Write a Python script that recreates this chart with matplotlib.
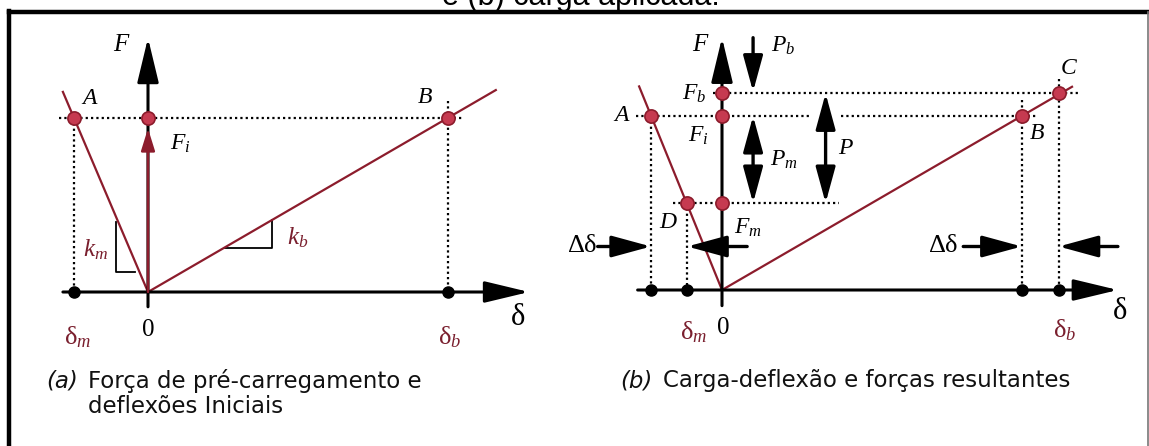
import matplotlib
matplotlib.use("Agg")
import matplotlib.pyplot as plt

plt.rcParams['mathtext.fontset'] = 'custom'
plt.rcParams['mathtext.rm'] = 'Liberation Serif'
plt.rcParams['mathtext.it'] = 'Liberation Serif:italic'
plt.rcParams['mathtext.bf'] = 'Liberation Serif:bold'

# (a) preload: member and bolt deflections at the initial force
F_i = 1.0
delta_m_a = -1.0
delta_b_a = 4.05

# (b) after the external load P is applied
names_b = ['A', 'D', 'B', 'C']
delta_b_pts = [-0.96, -0.47, 4.05, 4.55]
F_b_pts = [1.0, 0.50, 1.0, 1.13]
F_b = 1.13
F_m = 0.50

RED = '#8c1c2c'
MRED = '#c63a50'
LRED = '#7a1f2e'
W, H = 1149, 446
UX, UY = 74.0, 174.0      # pixels per unit of delta and F

fig = plt.figure(figsize=(W / 100, H / 100), dpi=100)


def panel(px_l, px_r, px_t, px_b, ox, oy):
    ax = fig.add_axes([px_l / W, 1 - px_b / H, (px_r - px_l) / W, (px_b - px_t) / H])
    ax.set_xlim((px_l - ox) / UX, (px_r - ox) / UX)
    ax.set_ylim((oy - px_b) / UY, (oy - px_t) / UY)
    ax.axis('off')
    return ax


def arrow(ax, tail, tip, color='k', lw=2.2, hl=1.0, hw=0.3, ms=22, style='-|>'):
    ax.annotate('', xy=tip, xytext=tail,
                arrowprops=dict(arrowstyle=f'{style},head_length={hl},head_width={hw}',
                                lw=lw, color=color, mutation_scale=ms,
                                shrinkA=0, shrinkB=0), zorder=4)


def label(ax, s, xy, off, size=17, color='k', **kw):
    ax.annotate(s, xy=xy, xytext=off, textcoords='offset pixels',
                ha='center', va='center', fontsize=size, color=color,
                fontfamily='Liberation Serif', zorder=6, **kw)


def dotted(ax, xs, ys):
    ax.plot(xs, ys, color='k', lw=1.6, ls=(0, (1, 1.4)), zorder=1)


def marker(ax, x, y):
    ax.plot(x, y, 'o', ms=9.5, mfc=MRED, mec=RED, mew=1.2, zorder=7)


def axis_dot(ax, x):
    ax.plot(x, 0, 'o', ms=8, color='k', zorder=7)


# ---------------- panel (a) ----------------
ax = panel(20, 565, 20, 440, 148, 292)
arrow(ax, (-1.15, 0), (5.15, 0), hl=1.25, hw=0.3)
arrow(ax, (0, -0.085), (0, 1.46), hl=1.25, hw=0.3)
ax.plot([-1.15, 0], [1.15, 0], color=RED, lw=1.6, zorder=3)
ax.plot([0, 4.70], [0, 4.70 * F_i / delta_b_a], color=RED, lw=1.6, zorder=3)
arrow(ax, (0, 0), (0, F_i - 0.06), color=RED, lw=1.8, hl=0.9, hw=0.28, ms=15)
dotted(ax, [-1.2, 4.27], [F_i, F_i])
dotted(ax, [delta_m_a, delta_m_a], [F_i, 0])
dotted(ax, [delta_b_a, delta_b_a], [1.10, 0])
# slope triangles
ax.plot([-0.43, -0.43, -0.17], [0.40, 0.115, 0.115], color='k', lw=1.3)
ax.plot([1.04, 1.68, 1.68], [0.253, 0.253, 0.415], color='k', lw=1.3)
for x in (delta_m_a, 0, delta_b_a):
    marker(ax, x, F_i)
axis_dot(ax, delta_m_a)
axis_dot(ax, delta_b_a)

label(ax, '$F$', (0, 1.46), (-26, -7), size=18)
label(ax, '$A$', (delta_m_a, F_i), (16, 19))
label(ax, '$B$', (delta_b_a, F_i), (-23, 20))
label(ax, '$F_i$', (0, F_i), (32, -26))
label(ax, '$k_m$', (0, 0), (-52, 42), size=18, color=LRED)
label(ax, '$k_b$', (0, 0), (150, 54), size=18, color=LRED)
label(ax, r'$\mathrm{\delta}$', (0, 0), (370, -26), size=22)
label(ax, r'$\mathrm{\delta}_m$', (delta_m_a, 0), (4, -45), size=19, color=LRED)
label(ax, '$0$', (0, 0), (0, -38), size=18)
label(ax, r'$\mathrm{\delta}_b$', (delta_b_a, 0), (2, -45), size=19, color=LRED)

# ---------------- panel (b) ----------------
bx = panel(575, 1140, 20, 440, 722, 290)
dA, dD, dB, dC = delta_b_pts
arrow(bx, (-1.14, 0), (5.35, 0), hl=1.25, hw=0.3)
arrow(bx, (0, -0.09), (0, 1.45), hl=1.25, hw=0.3)
bx.plot([-1.12, 0], [1.17, 0], color=RED, lw=1.6, zorder=3)
bx.plot([0, 4.73], [0, 4.73 * F_i / dB], color=RED, lw=1.6, zorder=3)
dotted(bx, [-0.12, 4.81], [F_b, F_b])
dotted(bx, [-1.16, 1.19], [F_i, F_i])
dotted(bx, [1.61, 4.24], [F_i, F_i])
dotted(bx, [-0.66, 1.58], [F_m, F_m])
dotted(bx, [dA, dA], [F_i, 0])
dotted(bx, [dD, dD], [F_m, 0])
dotted(bx, [dB, dB], [1.09, 0])
dotted(bx, [dC, dC], [1.21, 0])

# load arrows
xp, xP = 0.42, 1.40
arrow(bx, (xp, 1.45), (xp, F_b + 0.01), lw=2.4, hl=1.1, hw=0.3, ms=20)
arrow(bx, (xp, F_i), (xp, F_m), lw=2.4, hl=1.1, hw=0.3, ms=20, style='<|-|>')
arrow(bx, (xP, F_b), (xP, F_m), lw=2.4, hl=1.1, hw=0.3, ms=20, style='<|-|>')
# delta-delta arrows
yd = 0.25
arrow(bx, (-1.68, yd), (dA, yd), lw=2.4, hl=1.1, hw=0.3, ms=22)
arrow(bx, (0.34, yd), (dD, yd), lw=2.4, hl=1.1, hw=0.3, ms=22)
arrow(bx, (3.26, yd), (dB, yd), lw=2.4, hl=1.1, hw=0.3, ms=22)
arrow(bx, (5.35, yd), (dC, yd), lw=2.4, hl=1.1, hw=0.3, ms=22)

for d, f in zip(delta_b_pts, F_b_pts):
    marker(bx, d, f)
for f in (F_b, F_i, F_m):
    marker(bx, 0, f)
for d in delta_b_pts:
    axis_dot(bx, d)

label(bx, '$F$', (0, 1.45), (-21, -7), size=18)
label(bx, '$P_b$', (xp, 1.45), (30, -8))
label(bx, '$P_m$', (xp, (F_i + F_m) / 2), (31, 0))
label(bx, '$P$', (xP, (F_b + F_m) / 2), (20, 0))
label(bx, '$F_b$', (0, F_b), (-28, 0))
label(bx, '$F_i$', (0, F_i), (-24, -20))
label(bx, '$F_m$', (0, F_m), (26, -25))
for n, d, f, off in zip(names_b, delta_b_pts, F_b_pts,
                        [(-29, 0), (-19, -20), (15, -18), (10, 25)]):
    label(bx, f'${n}$', (d, f), off)
label(bx, r'$\Delta\mathrm{\delta}$', (-1.68, yd), (-15, 0), size=19)
label(bx, r'$\Delta\mathrm{\delta}$', (3.26, yd), (-20, 0), size=19)
label(bx, r'$\mathrm{\delta}$', (0, 0), (398, -22), size=22)
label(bx, r'$\mathrm{\delta}_m$', (dD, 0), (6, -42), size=19, color=LRED)
label(bx, '$0$', (0, 0), (1, -38), size=18)
label(bx, r'$\mathrm{\delta}_b$', (dC, 0), (6, -40), size=19, color=LRED)


# captions
def fy(y):
    return 1 - y / H


cap = dict(fontsize=16.5, family='DejaVu Sans', color='#111111')
fig.text(46 / W, fy(381), '(a)', style='italic', va='center', **cap)
fig.text(88 / W, fy(369), 'Força de pré-carregamento e\ndeflexões Iniciais',
         va='top', linespacing=1.12, **cap)
fig.text(620 / W, fy(381), '(b)', style='italic', va='center', **cap)
fig.text(663 / W, fy(381), 'Carga-deflexão e forças resultantes', va='center', **cap)

# clipped heading above the frame
fig.text(581 / W, fy(4.5), 'e (b) carga aplicada.', fontsize=22,
         family='Liberation Sans', ha='center', va='baseline')

# frame
fig.add_artist(plt.Line2D([9 / W, 9 / W], [0, fy(11)], color='k', lw=3.2))
fig.add_artist(plt.Line2D([9 / W, 1147.5 / W], [fy(11.5), fy(11.5)], color='k', lw=3.2))
fig.add_artist(plt.Line2D([1147.5 / W, 1147.5 / W], [0, fy(11.5)], color='#777777', lw=1.2))

fig.savefig('out.png', dpi=100)
